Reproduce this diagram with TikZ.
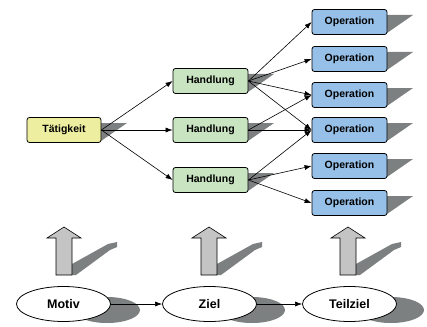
\documentclass[tikz,border=0pt]{standalone}
\usepackage{fontspec}
\setmainfont{Liberation Sans}
\usepackage{xcolor}
\usetikzlibrary{
	shapes,arrows.meta
}
\definecolor{actfill}{RGB}{238,238,160}
\definecolor{handfill}{RGB}{200,228,192}
\definecolor{opfill}{RGB}{150,192,232}
\definecolor{shadegray}{RGB}{125,128,128}
\definecolor{uparrowfill}{RGB}{196,196,196}

\begin{document}
\begin{tikzpicture}[x=1pt,y=-1pt,
		box/.style={draw,rounded corners=2.5pt,line width=0.8pt,minimum width=74pt,
			minimum height=25pt,inner sep=0pt,font=\fontsize{10.5}{12}\selectfont\bfseries},
		goal/.style={draw,ellipse,fill=white,line width=0.8pt,minimum width=94pt,
			minimum height=35pt,inner sep=0pt,font=\fontsize{12.5}{14}\selectfont\bfseries},
		lnk/.style={-{Latex[length=7pt,width=5pt]},line width=0.6pt}]
		\useasboundingbox (0,0) rectangle (427,326);
		%
		\foreach \x/\y in {101/130,248/81,248/130,248/180,387/22,387/59,387/95,387/130,387/166,387/203}
			\fill[shadegray] (\x,\y-7) -- (\x+26,\y-7) -- (\x,\y+11) -- cycle;
		%
		\foreach \c in {64,209,348} {
			\fill[shadegray] (\c+8,264) -- (\c+44,244) -- (\c+53,242) -- (\c+53,247)
				-- (\c+46,250) -- (\c+12,275) -- (\c+8,275) -- cycle;
			\draw[fill=uparrowfill,line width=0.6pt] (\c-8,275) -- (\c-8,238) -- (\c-17,238)
				-- (\c,227) -- (\c+17,238) -- (\c+8,238) -- (\c+8,275) -- cycle;
			\fill[shadegray] (\c+43,310) ellipse (33 and 13);
		}
		%
		\node[box,fill=actfill] (T) at (64,130) {Tätigkeit};
		\node[box,fill=handfill,minimum width=75pt] (H1) at (210.5,81) {Handlung};
		\node[box,fill=handfill,minimum width=75pt] (H2) at (210.5,130) {Handlung};
		\node[box,fill=handfill,minimum width=75pt] (H3) at (210.5,180) {Handlung};
		\node[box,fill=opfill,minimum width=75pt] (O1) at (349.5,22) {Operation};
		\node[box,fill=opfill,minimum width=75pt] (O2) at (349.5,59) {Operation};
		\node[box,fill=opfill,minimum width=75pt] (O3) at (349.5,95) {Operation};
		\node[box,fill=opfill,minimum width=75pt] (O4) at (349.5,130) {Operation};
		\node[box,fill=opfill,minimum width=75pt] (O5) at (349.5,166) {Operation};
		\node[box,fill=opfill,minimum width=75pt] (O6) at (349.5,203) {Operation};
		%
		\node[goal] (M) at (63.5,304) {Motiv};
		\node[goal] (Z) at (209.5,304) {Ziel};
		\node[goal] (TZ) at (349.5,304) {Teilziel};
		%
		\path[lnk]
			(T.east) edge (H1.west)
			(T.east) edge (H2.west)
			(T.east) edge (H3.west)
			(H1.east) edge (O1.west)
			(H1.east) edge (O2.west)
			(H1.east) edge (O3.west)
			(H1.east) edge (O4.west)
			(H2.east) edge (O3.west)
			(H2.east) edge (O4.west)
			(H3.east) edge (O4.west)
			(H3.east) edge (O5.west)
			(H3.east) edge (O6.west)
			(M) edge (Z)
			(Z) edge (TZ);
	\end{tikzpicture}
\end{document}
